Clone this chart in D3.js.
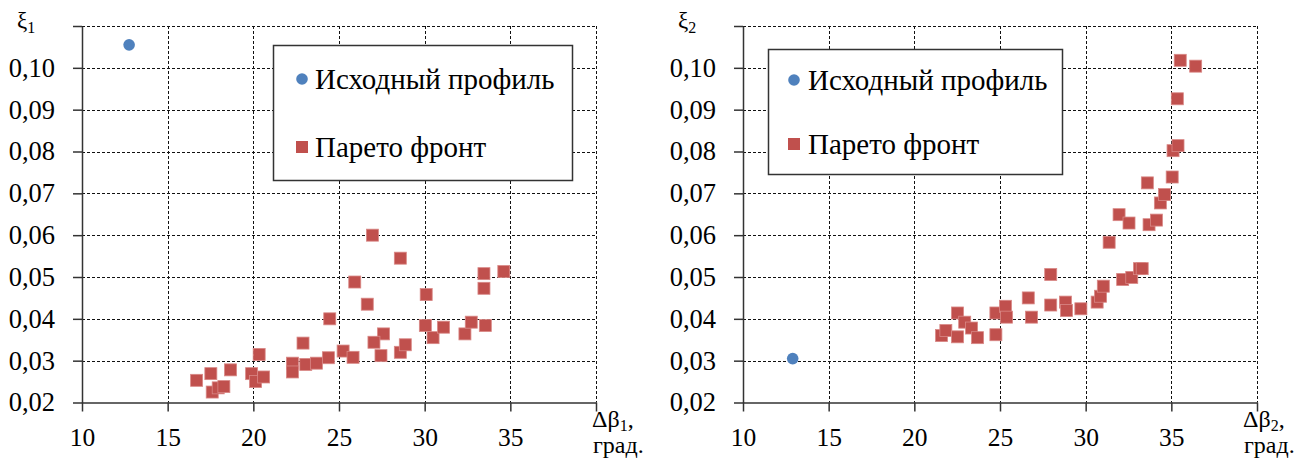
<!DOCTYPE html>
<html>
<head>
<meta charset="utf-8">
<script src="https://cdn.jsdelivr.net/npm/d3@7"></script>
<style>
  body { margin: 0; background: #fff; }
  svg { display: block; }
  .grid line { stroke: #111; stroke-width: 1; stroke-dasharray: 3,2; }
  .axis path, .axis line { stroke: #333; stroke-width: 1.5; }
</style>
</head>
<body>
<svg id="chart" width="1312" height="459"></svg>
<script>
// ---- data ----
var xTicks = [10, 15, 20, 25, 30, 35, 40];
var yTicks = [0.02, 0.03, 0.04, 0.05, 0.06, 0.07, 0.08, 0.09, 0.10, 0.11];
var legendLabels = ["Исходный профиль", "Парето фронт"];

// chart 1: ξ1 vs Δβ1
var initial1 = [[12.75, 0.1055]];
var pareto1 = [
  [16.69, 0.0253], [17.52, 0.0269], [17.60, 0.0225], [17.95, 0.0235], [18.28, 0.0238],
  [18.67, 0.0278], [19.90, 0.0269], [20.13, 0.0250], [20.60, 0.0261], [20.34, 0.0315],
  [22.28, 0.0294], [22.28, 0.0273], [22.90, 0.0342], [23.06, 0.0291], [23.68, 0.0294],
  [24.38, 0.0307], [24.46, 0.0400], [25.24, 0.0323], [25.82, 0.0308], [25.92, 0.0488],
  [26.65, 0.0435], [26.95, 0.0600], [28.58, 0.0545], [27.60, 0.0364], [27.04, 0.0344],
  [27.45, 0.0312], [28.58, 0.0320], [28.87, 0.0338], [30.09, 0.0458], [30.04, 0.0384],
  [30.49, 0.0355], [31.10, 0.0380], [32.35, 0.0364], [32.72, 0.0392], [33.46, 0.0508],
  [33.46, 0.0473], [33.54, 0.0384], [34.62, 0.0513]
];

// chart 2: ξ2 vs Δβ2
var initial2 = [[12.9, 0.0305]];
var pareto2 = [
  [21.59, 0.0360], [21.84, 0.0372], [22.52, 0.0414], [22.52, 0.0357], [22.94, 0.0392],
  [23.34, 0.0378], [23.69, 0.0355], [24.76, 0.0362], [24.76, 0.0414], [25.32, 0.0430],
  [25.38, 0.0404], [26.65, 0.0450], [26.84, 0.0404], [27.96, 0.0506], [27.96, 0.0433],
  [28.82, 0.0440], [28.88, 0.0420], [29.72, 0.0424], [30.67, 0.0440], [30.87, 0.0454],
  [31.03, 0.0478], [32.16, 0.0494], [32.69, 0.0499], [33.14, 0.0520], [33.30, 0.0520],
  [31.37, 0.0583], [31.95, 0.0649], [32.53, 0.0629], [33.70, 0.0625], [34.13, 0.0636],
  [34.36, 0.0677], [34.60, 0.0697], [33.60, 0.0725], [35.05, 0.0739], [35.10, 0.0802],
  [35.39, 0.0814], [35.35, 0.0926], [35.52, 0.1018], [36.42, 0.1004]
];

var blue = "#4f81bd", red = "#c0504d";
var serif = "'Liberation Serif', 'Times New Roman', serif";
var svg = d3.select("#chart").style("font-family", serif);
var fmt = function(d) { return d.toFixed(2).replace(".", ","); };

function drawChart(opt) {
  var top = 26, bottom = 402.5, w = 514;
  var x = d3.scaleLinear().domain([10, 40]).range([opt.left, opt.left + w]);
  var y = d3.scaleLinear().domain([0.02, 0.11]).range([bottom, top]);
  var g = svg.append("g");

  // dashed grid
  var grid = g.append("g").attr("class", "grid");
  grid.selectAll(".h").data(yTicks.slice(1)).enter().append("line")
    .attr("x1", x(10)).attr("x2", x(40))
    .attr("y1", d => Math.round(y(d)) + 0.5).attr("y2", d => Math.round(y(d)) + 0.5);
  grid.selectAll(".v").data(xTicks.slice(1)).enter().append("line")
    .attr("y1", top).attr("y2", bottom)
    .attr("x1", d => Math.round(x(d)) + 0.5).attr("x2", d => Math.round(x(d)) + 0.5);

  // axes
  var xa = g.append("g").attr("class", "axis")
    .attr("transform", "translate(0," + bottom + ")")
    .call(d3.axisBottom(x).tickValues(xTicks).tickSize(9).tickSizeOuter(0).tickPadding(16)
      .tickFormat(d => d === 40 ? "" : d));
  var ya = g.append("g").attr("class", "axis")
    .attr("transform", "translate(" + opt.left + ",0)")
    .call(d3.axisLeft(y).tickValues(yTicks).tickSize(9).tickSizeOuter(0).tickPadding(18)
      .tickFormat(d => d > 0.105 ? "" : fmt(d)));
  xa.attr("font-family", null).attr("font-size", null)
    .selectAll("text").style("font-size", "25.5px").attr("fill", "#000");
  ya.attr("font-family", null).attr("font-size", null)
    .selectAll("text").style("font-size", "26.5px").attr("fill", "#000");

  // points
  g.selectAll(".sq").data(opt.pareto).enter().append("rect")
    .attr("x", d => x(d[0]) - 6).attr("y", d => y(d[1]) - 6)
    .attr("width", 12).attr("height", 12)
    .attr("fill", red).attr("stroke", "#d98886").attr("stroke-width", 0.8);
  g.selectAll(".ci").data(opt.initial).enter().append("circle")
    .attr("cx", d => x(d[0])).attr("cy", d => y(d[1])).attr("r", 5.8)
    .attr("fill", blue);

  // y title
  var yt = g.append("text").attr("x", opt.left - 65).attr("y", 28)
    .style("font-size", "23px");
  yt.append("tspan").text("ξ");
  yt.append("tspan").attr("dy", 5).style("font-size", "16px").text(opt.sub);

  // x title
  var xt = g.append("text").attr("x", opt.titleX).attr("y", 427)
    .style("font-size", "24px");
  xt.append("tspan").text("Δβ");
  xt.append("tspan").attr("dy", 4).style("font-size", "16px").text(opt.sub);
  xt.append("tspan").attr("dy", -4).text(",");
  g.append("text").attr("x", opt.titleX + 1).attr("y", 453)
    .style("font-size", "24px").text("град.");

  // legend
  var lg = opt.legend;
  g.append("rect").attr("x", lg.x + 0.5).attr("y", lg.y + 0.5)
    .attr("width", lg.w).attr("height", lg.h)
    .attr("fill", "#fff").attr("stroke", "#333").attr("stroke-width", 1.5);
  var rows = g.selectAll(".lg").data(legendLabels).enter().append("g")
    .attr("transform", (d, i) => "translate(" + (lg.x + lg.mx) + "," + (lg.y + lg.r0 + i * lg.dy) + ")");
  rows.append("text").attr("x", lg.tx).attr("y", 10)
    .style("font-size", "29px").text(d => d);
  rows.filter((d, i) => i === 0).append("circle").attr("r", 5.8).attr("fill", blue);
  rows.filter((d, i) => i === 1).append("rect")
    .attr("x", -6).attr("y", -6).attr("width", 12).attr("height", 12).attr("fill", red);
}

drawChart({
  left: 82, sub: "1", titleX: 592, initial: initial1, pareto: pareto1,
  legend: {x: 273, y: 45, w: 299, h: 135, mx: 29, r0: 34, dy: 68, tx: 13}
});
drawChart({
  left: 743, sub: "2", titleX: 1243, initial: initial2, pareto: pareto2,
  legend: {x: 768, y: 49, w: 294, h: 125, mx: 26, r0: 31, dy: 64, tx: 14}
});
</script>
</body>
</html>
